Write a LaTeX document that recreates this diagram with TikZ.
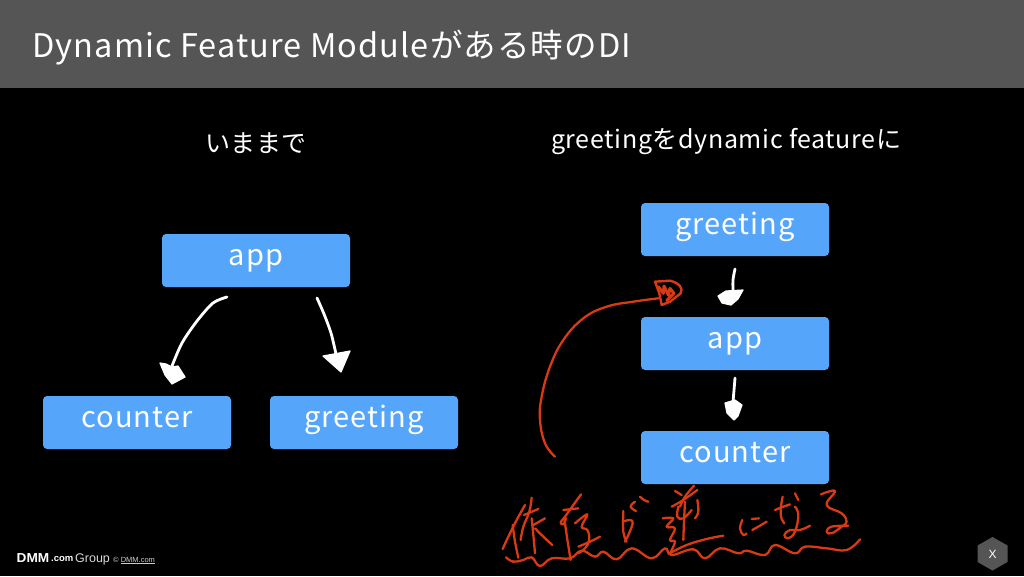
\documentclass[tikz,border=0pt]{standalone}
\usepackage{fontspec}
\setmainfont{Noto Sans CJK JP}
\newfontfamily\lat{Liberation Sans}
\newfontfamily\spaced[LetterSpace=3.4]{Noto Sans CJK JP}
\newfontfamily\spacedb[LetterSpace=2.5]{Noto Sans CJK JP}
\definecolor{barc}{HTML}{555555}
\definecolor{boxc}{HTML}{55A5FB}
\definecolor{redc}{HTML}{D93A14}
\tikzset{
  box/.style={fill=boxc,rounded corners=4pt,minimum width=188pt,minimum height=53pt,inner sep=0pt,text height=20pt,text depth=11pt,text=white,font=\spaced\fontsize{29}{29}\selectfont},
  labelt/.style={text=white,inner sep=0pt,font=\spacedb\fontsize{25}{25}\selectfont},
  hand/.style={white,line width=2.8pt,line cap=round,line join=round},
  head/.style={fill=white,draw=white,line width=1.2pt,line join=round},
  redl/.style={draw=redc,line width=2.3pt,line cap=round,line join=round},
  zooma/.style={shift={(500,485)},x=0.3333pt,y=-0.3333pt},
  zoomb/.style={shift={(620,485)},x=0.3333pt,y=-0.3333pt},
  zoomc/.style={shift={(735,485)},x=0.3333pt,y=-0.3333pt},
  zoomd/.style={shift={(480,480)},x=0.3333pt,y=-0.3333pt},
  zoome/.style={shift={(520,260)},x=0.3333pt,y=-0.3333pt}
}
\newcommand{\stroke}[1]{\draw[redl] plot[smooth,tension=0.7] coordinates {#1};}
\begin{document}
\begin{tikzpicture}[x=1pt,y=-1pt]
\useasboundingbox (0,0) rectangle (1024,576);
\fill[black] (0,0) rectangle (1024,576);
\fill[barc] (0,0) rectangle (1024,88);
\node[anchor=west,text=white,inner sep=0pt,font=\spaced\fontsize{32.5}{32.5}\selectfont] (title) at (32,48) {Dynamic Feature Moduleがある時のDI};
\node[labelt,anchor=center] (l1) at (256,143) {いままで};
\node[labelt,anchor=west] (l2) at (551,141.5) {greetingをdynamic featureに};
\node[box] (app1) at (256,260.5) {app};
\node[box] (counter1) at (137,422.5) {counter};
\node[box] (greeting1) at (364,422.5) {greeting};
\node[box] (greeting2) at (735,229.5) {greeting};
\node[box] (app2) at (735,343.5) {app};
\node[box] (counter2) at (735,457.5) {counter};
% white hand arrows
\draw[hand] plot[smooth] coordinates {(227,297) (213,303) (197,321) (182,343) (172,366)};
\draw[head] (160,363) -- (166,364) -- (172,367) -- (178,366) -- (185,377) -- (172,384) -- (165,375) -- cycle;
\draw[hand] plot[smooth] coordinates {(317,298) (324,314) (331,333) (336,354)};
\draw[head] (323,356) -- (350,351) -- (341,372) -- cycle;
\draw[hand] plot[smooth] coordinates {(735,269) (733,280) (733,294)};
\draw[head] (718,296) -- (726,291) -- (743,290) -- (738,299) -- (731,305) -- (722,303) -- cycle;
\draw[hand] plot[smooth] coordinates {(735,378) (734,390) (733,402)};
\draw[head] (725,403) -- (735,400) -- (742,405) -- (738,416) -- (734,420) -- (727,413) -- cycle;
% red long arrow
\begin{scope}[zoome]
\stroke{(105,590)(75,550)(60,480)(65,410)(90,320)(130,240)(190,175)(260,140)(340,125)(415,115)}
\draw[redl,line width=2.4pt] (405,65) -- (450,62) .. controls (480,70) and (490,85) .. (482,100) -- (450,125) -- (425,135) -- (418,100) -- cycle;
\draw[redl,line width=3pt] (415,80) -- (430,100) -- (432,78) -- (445,105) -- (450,85) -- (462,100) -- (440,122);
\end{scope}
% handwriting
\begin{scope}[zooma]
\stroke{(75,60)(50,105)(25,155)(8,192)}
\stroke{(38,120)(45,170)(55,218)}
\stroke{(95,38)(88,80)(70,125)(62,165)}
\stroke{(72,90)(115,72)}
\stroke{(95,100)(100,150)(105,205)}
\stroke{(100,120)(135,100)}
\stroke{(105,130)(130,155)(157,180)}
\stroke{(243,28)(220,60)(195,95)(182,112)(190,118)(198,100)}
\stroke{(190,75)(235,70)}
\stroke{(195,115)(203,170)(212,225)}
\stroke{(225,115)(262,88)(245,125)(262,135)(268,165)(255,190)(235,205)}
\stroke{(235,185)(270,170)(300,155)}
\end{scope}
\begin{scope}[zoomb]
\stroke{(8,110)(30,105)(38,115)(25,150)(15,170)}
\stroke{(10,78)(10,140)(20,170)}
\stroke{(45,50)(32,65)(48,78)}
\stroke{(60,35)(72,45)(85,50)}
\stroke{(222,2)(195,35)(180,65)}
\stroke{(155,65)(190,45)(232,15)}
\stroke{(165,18)(185,30)}
\stroke{(175,65)(172,95)(190,100)(215,75)}
\stroke{(195,50)(192,110)(190,165)}
\stroke{(232,45)(235,80)(225,100)}
\stroke{(128,100)(160,100)(140,125)(165,130)(150,165)(165,170)(150,205)}
\stroke{(150,205)(200,180)(260,162)(310,152)}
\end{scope}
\begin{scope}[zoomc]
\stroke{(22,105)(15,130)(25,150)(35,145)}
\stroke{(50,102)(72,100)}
\stroke{(52,135)(75,122)(95,110)}
\stroke{(120,75)(145,65)(165,58)}
\stroke{(143,35)(138,65)(138,95)(148,115)}
\stroke{(180,25)(190,45)}
\stroke{(180,65)(190,90)(180,140)(160,160)(148,150)(165,135)(195,135)(225,122)}
\stroke{(258,28)(300,18)(275,60)(320,85)(335,110)(320,125)(290,145)(275,140)(290,125)(340,122)}
\end{scope}
\begin{scope}[zoomd]
\stroke{(78,232)(100,245)(130,240)(155,232)(180,258)(215,235)(270,235)(305,212)(345,230)(370,215)(410,238)(455,205)(515,235)(555,205)(575,225)(640,208)(675,235)(720,205)(775,220)(800,212)(855,225)(885,195)(945,220)(975,200)(1040,205)(1100,210)(1140,178)}
\end{scope}
% footer
\node[anchor=west,text=white,inner sep=0pt,font=\lat\bfseries\fontsize{13}{13}\selectfont] (dmm) at (16.5,558.5) {\scalebox{1.05}[1]{DMM}};
\node[anchor=west,text=white,inner sep=0pt,font=\lat\bfseries\fontsize{9.5}{9.5}\selectfont] (com) at (51,559) {.com};
\node[anchor=west,text=white!85!black,inner sep=0pt,font=\lat\fontsize{12.5}{12.5}\selectfont] (grp) at (75,559.5) {Group};
\node[anchor=west,text=white!80!black,inner sep=0pt,font=\lat\fontsize{7.5}{7.5}\selectfont] (copy) at (113,560.5) {© \underline{DMM.com}};
\fill[barc] (992.5,537) -- (1007.5,545.5) -- (1007.5,562) -- (992.5,570.5) -- (977.5,562) -- (977.5,545.5) -- cycle;
\node[text=white,inner sep=0pt,font=\lat\fontsize{12}{12}\selectfont] (x) at (992.5,554) {X};
\end{tikzpicture}
\end{document}
